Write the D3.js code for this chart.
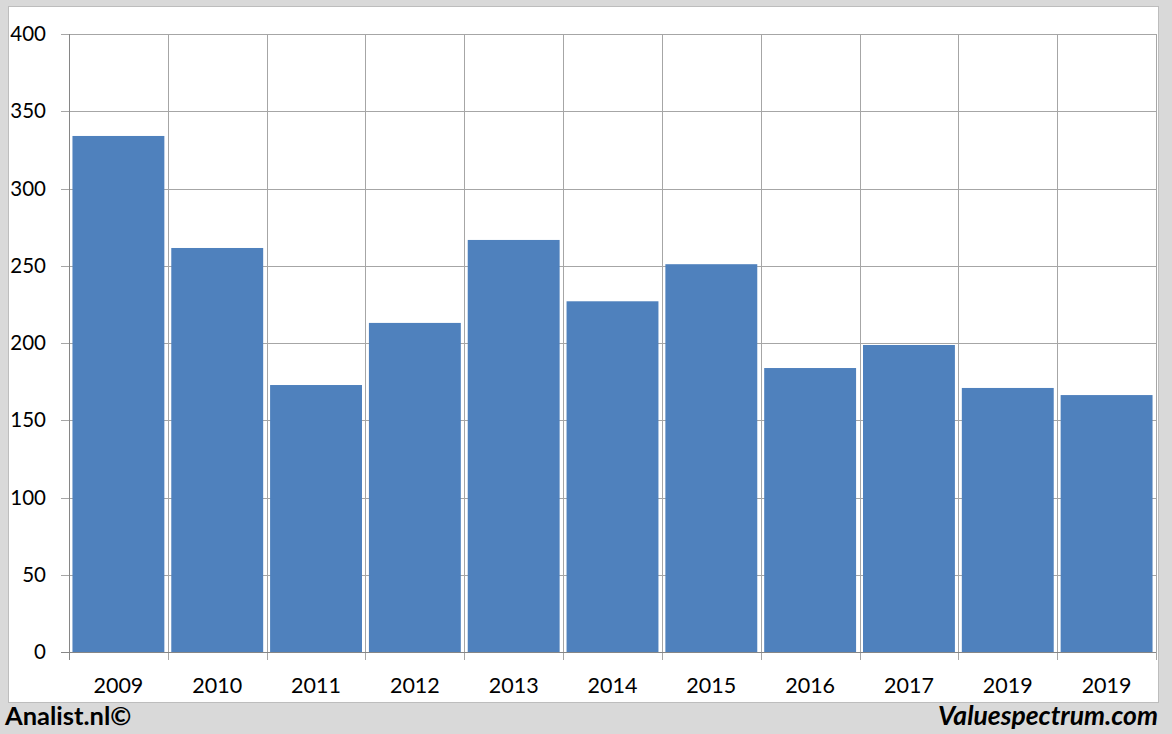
<!DOCTYPE html>
<html><head><meta charset="utf-8">
<script src="https://cdn.jsdelivr.net/npm/d3@7"></script>
<style>body{margin:0;background:#d9d9d9;}svg{display:block;font-family:Lato,"Open Sans",sans-serif;}</style>
</head><body><svg id="c" width="1172" height="734"></svg>
<script>
const categories = ["2009","2010","2011","2012","2013","2014","2015","2016","2017","2019","2019"];
const values = [334, 261.5, 172.8, 213, 266.7, 227, 251, 183.8, 198.7, 170.9, 166.3];
const yTicks = [0,50,100,150,200,250,300,350,400];

const svg = d3.select("#c");
const W=1172,H=734;
svg.append("rect").attr("width",W).attr("height",H).attr("fill","#d9d9d9");
svg.append("rect").attr("x",8.5).attr("y",6.5).attr("width",1150).attr("height",696).attr("fill","#fff").attr("stroke","#bdbdbd");

const L=69,R=1156,T=34,B=652;
const idx = categories.map((d,i)=>i);
const x = d3.scaleBand().domain(idx).range([L,R]).paddingInner(0.07).paddingOuter(0.035);
const xb = d3.scaleLinear().domain([0,categories.length]).range([L,R]);
const y = d3.scaleLinear().domain([0,400]).range([B,T]);

svg.append("g").selectAll("line").data(yTicks).join("line")
  .attr("x1",L-8).attr("x2",R).attr("y1",d=>Math.round(y(d))+0.5).attr("y2",d=>Math.round(y(d))+0.5)
  .attr("stroke","#a6a6a6").attr("stroke-width",1);
svg.append("g").selectAll("line").data(d3.range(categories.length+1)).join("line")
  .attr("x1",d=>Math.round(xb(d))+0.5).attr("x2",d=>Math.round(xb(d))+0.5)
  .attr("y1",T).attr("y2",B+8)
  .attr("stroke","#a6a6a6").attr("stroke-width",1);

svg.append("g").selectAll("rect").data(values).join("rect")
  .attr("x",(d,i)=>x(i)).attr("width",x.bandwidth())
  .attr("y",d=>y(d)).attr("height",d=>B-y(d))
  .attr("fill","#4f81bd");

svg.append("line").attr("x1",L+0.5).attr("x2",L+0.5).attr("y1",T).attr("y2",B+8).attr("stroke","#868686");
svg.append("line").attr("x1",L-8).attr("x2",R).attr("y1",B+0.5).attr("y2",B+0.5).attr("stroke","#868686");

svg.append("g").selectAll("text").data(yTicks).join("text")
  .attr("x",46).attr("y",d=>y(d)).attr("dy","0.35em").attr("text-anchor","end")
  .attr("font-size",20.5).attr("fill","#000").text(d=>d);
svg.append("g").selectAll("text").data(categories).join("text")
  .attr("x",(d,i)=>x(i)+x.bandwidth()/2).attr("y",685).attr("dy","0.35em").attr("text-anchor","middle")
  .attr("font-size",21.5).attr("fill","#000").text(d=>d);

svg.append("text").attr("x",5).attr("y",725).attr("font-size",25.5).attr("font-weight","bold").attr("fill","#000").text("Analist.nl©");
svg.append("text").attr("x",1158).attr("y",725).attr("text-anchor","end").attr("font-size",26.5).attr("font-weight","bold").attr("font-style","italic").attr("fill","#000").text("Valuespectrum.com");
</script></body></html>
